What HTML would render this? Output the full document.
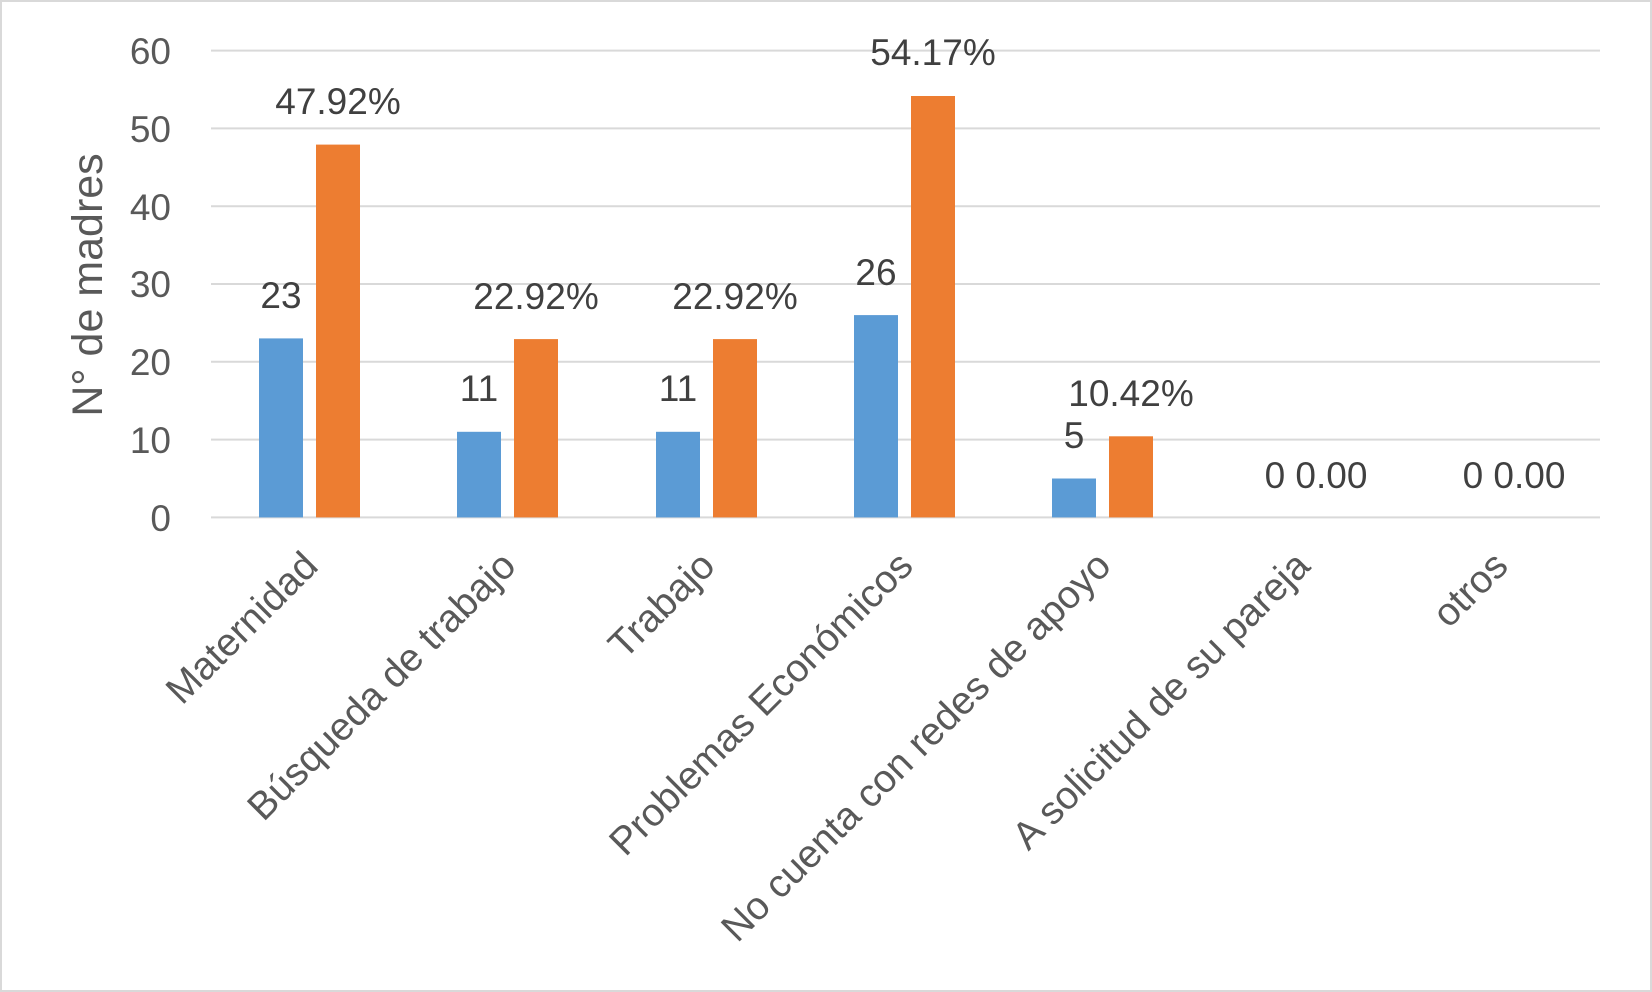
<!DOCTYPE html>
<html><head><style>
html,body{margin:0;padding:0;background:#fff}
svg{display:block;font-family:"Liberation Sans",Arial,sans-serif}
</style></head><body>
<svg width="1652" height="992" viewBox="0 0 1652 992" xmlns="http://www.w3.org/2000/svg">
<rect x="1" y="1" width="1650" height="990" fill="#fff" stroke="#d9d9d9" stroke-width="2"/>
<g stroke="#d9d9d9" stroke-width="2">
<line x1="211" x2="1600" y1="50.6" y2="50.6"/>
<line x1="211" x2="1600" y1="128.4" y2="128.4"/>
<line x1="211" x2="1600" y1="206.2" y2="206.2"/>
<line x1="211" x2="1600" y1="284" y2="284"/>
<line x1="211" x2="1600" y1="361.8" y2="361.8"/>
<line x1="211" x2="1600" y1="439.6" y2="439.6"/>
<line x1="211" x2="1600" y1="517.4" y2="517.4"/>
</g>
<g fill="#595959" font-size="37" text-anchor="end">
<text x="171" y="64">60</text>
<text x="171" y="142">50</text>
<text x="171" y="220">40</text>
<text x="171" y="297">30</text>
<text x="171" y="375">20</text>
<text x="171" y="453">10</text>
<text x="171" y="531">0</text>
</g>
<text transform="translate(102,285) rotate(-90)" text-anchor="middle" fill="#595959" font-size="43">N° de madres</text>
<g fill="#5b9bd5">
<rect x="259" y="338.4" width="44" height="179"/>
<rect x="457" y="431.8" width="44" height="85.6"/>
<rect x="656" y="431.8" width="44" height="85.6"/>
<rect x="854" y="315.1" width="44" height="202.3"/>
<rect x="1052" y="478.5" width="44" height="38.9"/>
</g>
<g fill="#ed7d31">
<rect x="316" y="144.6" width="44" height="372.8"/>
<rect x="514" y="339.1" width="44" height="178.3"/>
<rect x="713" y="339.1" width="44" height="178.3"/>
<rect x="911" y="96" width="44" height="421.4"/>
<rect x="1109" y="436.3" width="44" height="81.1"/>
</g>
<g fill="#404040" font-size="37" text-anchor="middle">
<text x="281" y="308">23</text>
<text x="338" y="114">47.92%</text>
<text x="479" y="401">11</text>
<text x="536" y="309">22.92%</text>
<text x="678" y="401">11</text>
<text x="735" y="309">22.92%</text>
<text x="876" y="285">26</text>
<text x="933" y="65">54.17%</text>
<text x="1074" y="448">5</text>
<text x="1131" y="406">10.42%</text>
<text x="1316" y="488">0 0.00</text>
<text x="1514" y="488">0 0.00</text>
</g>
<g fill="#595959" font-size="39" text-anchor="end">
<text transform="translate(320,568) rotate(-45)">Maternidad</text>
<text transform="translate(518,568) rotate(-45)">Búsqueda de trabajo</text>
<text transform="translate(717,568) rotate(-45)">Trabajo</text>
<text transform="translate(915,568) rotate(-45)">Problemas Económicos</text>
<text transform="translate(1113,568) rotate(-45)">No cuenta con redes de apoyo</text>
<text transform="translate(1312,568) rotate(-45)">A solicitud de su pareja</text>
<text transform="translate(1510,568) rotate(-45)">otros</text>
</g>
</svg>
</body></html>
